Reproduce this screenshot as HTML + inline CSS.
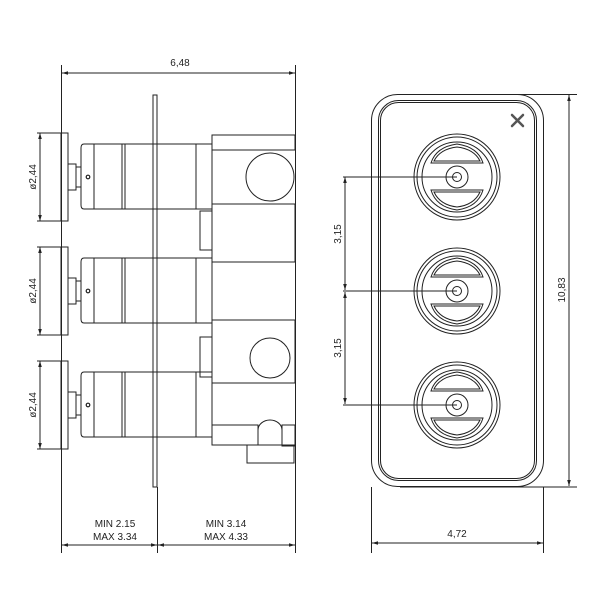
<!DOCTYPE html>
<html><head><meta charset="utf-8"><style>
html,body{margin:0;padding:0;background:#fff}
svg{display:block}
text{font-family:"Liberation Sans","DejaVu Sans",sans-serif;font-size:10px;fill:#222}
</style></head><body>
<svg width="600" height="600" viewBox="0 0 600 600" xmlns="http://www.w3.org/2000/svg">
<defs>
<marker id="a" viewBox="0 0 10 10" refX="10" refY="5" markerWidth="6" markerHeight="6" orient="auto-start-reverse"><path d="M0,2 L10,5 L0,8 z" fill="#222"/></marker>
<g id="knob" fill="none" stroke="#222" stroke-width="1">
<rect x="61" y="133" width="7" height="88"/>
<rect x="68" y="164" width="8" height="26"/>
<rect x="76" y="167" width="5" height="20"/>
<path d="M84,144 H196 V209 H84 Q81,209 81,205 V148 Q81,144 84,144 Z"/>
<line x1="94" y1="144" x2="94" y2="209"/>
<line x1="122" y1="144" x2="122" y2="209"/>
<line x1="125" y1="144" x2="125" y2="209"/>
<circle cx="88" cy="177" r="1.8" stroke-width="1.2"/>
<line x1="40" y1="133" x2="40" y2="221" marker-start="url(#a)" marker-end="url(#a)"/>
<line x1="37" y1="133" x2="61" y2="133"/>
<line x1="37" y1="221" x2="61" y2="221"/>
<rect x="196" y="144" width="16" height="65"/>
</g>
<g id="face" fill="none" stroke="#222" stroke-width="1">
<circle cx="457" cy="177" r="43"/>
<circle cx="457" cy="177" r="40"/>
<circle cx="457" cy="177" r="35"/>
<path d="M431,163 H483 Q478,147 457,144 Q436,147 431,163 Z"/>
<path d="M434,161 H480 Q474,149 457,147 Q440,149 434,161 Z"/>
<path d="M431,190 H483 Q478,207 457,210 Q436,207 431,190 Z"/>
<path d="M434,192 H480 Q474,205 457,207 Q440,205 434,192 Z"/>
<circle cx="457" cy="177" r="11"/>
<circle cx="457" cy="177" r="4.5"/>
<line x1="343" y1="177" x2="457" y2="177"/>
</g>
</defs>
<g fill="none" stroke="#222" stroke-width="1">
<line x1="61.5" y1="65" x2="61.5" y2="553"/>
<line x1="295.5" y1="65" x2="295.5" y2="553"/>
<line x1="62" y1="73" x2="295" y2="73" marker-start="url(#a)" marker-end="url(#a)"/>
<rect x="153" y="95" width="4" height="392"/>
<line x1="157.5" y1="487" x2="157.5" y2="553"/>
<line x1="62" y1="545" x2="157" y2="545" marker-start="url(#a)" marker-end="url(#a)"/>
<line x1="158" y1="545" x2="295" y2="545" marker-start="url(#a)" marker-end="url(#a)"/>
<rect x="212" y="135" width="83" height="15"/>
<circle cx="270" cy="177" r="24"/>
<rect x="212" y="204" width="83" height="58"/>
<rect x="200" y="211" width="12" height="39"/>
<rect x="212" y="320" width="83" height="63"/>
<circle cx="270" cy="358" r="20"/>
<rect x="200" y="337" width="12" height="40"/>
<rect x="212" y="425" width="46" height="20"/>
<path d="M258,445 V430 A12,10 0 0 1 282,430 V445"/>
<rect x="282" y="425" width="13" height="21"/>
<rect x="247" y="445" width="47" height="18"/>
<rect x="371.5" y="94.5" width="172" height="392" rx="26"/>
<rect x="378.5" y="100.5" width="158" height="380" rx="20"/>
<rect x="380.5" y="102.5" width="154" height="376" rx="18"/>
<line x1="460" y1="94.5" x2="577" y2="94.5"/>
<line x1="400" y1="487" x2="577" y2="487"/>
<line x1="569" y1="95" x2="569" y2="486" marker-start="url(#a)" marker-end="url(#a)"/>
<line x1="371.5" y1="487" x2="371.5" y2="553"/>
<line x1="543.5" y1="487" x2="543.5" y2="553"/>
<line x1="372" y1="543" x2="543" y2="543" marker-start="url(#a)" marker-end="url(#a)"/>
<line x1="345" y1="177" x2="345" y2="290" marker-start="url(#a)" marker-end="url(#a)"/>
<line x1="345" y1="292" x2="345" y2="404" marker-start="url(#a)" marker-end="url(#a)"/>
</g>
<g stroke="#555" stroke-width="2.5" stroke-linecap="round">
<line x1="512" y1="115" x2="523" y2="126"/><line x1="523" y1="115" x2="512" y2="126"/>
</g>
<use href="#knob"/>
<use href="#knob" y="114"/>
<use href="#knob" y="228"/>
<use href="#face"/>
<use href="#face" y="114"/>
<use href="#face" y="228"/>
<text x="180" y="66" text-anchor="middle">6,48</text>
<text x="115" y="527" text-anchor="middle">MIN 2.15</text>
<text x="115" y="540" text-anchor="middle">MAX 3.34</text>
<text x="226" y="527" text-anchor="middle">MIN 3.14</text>
<text x="226" y="540" text-anchor="middle">MAX 4.33</text>
<text x="457" y="537" text-anchor="middle">4,72</text>
<text transform="translate(36,177) rotate(-90)" text-anchor="middle">ø2,44</text>
<text transform="translate(36,291) rotate(-90)" text-anchor="middle">ø2,44</text>
<text transform="translate(36,405) rotate(-90)" text-anchor="middle">ø2,44</text>
<text transform="translate(341,234) rotate(-90)" text-anchor="middle">3,15</text>
<text transform="translate(341,348) rotate(-90)" text-anchor="middle">3,15</text>
<text transform="translate(565,290) rotate(-90)" text-anchor="middle">10,83</text>
</svg>
</body></html>
